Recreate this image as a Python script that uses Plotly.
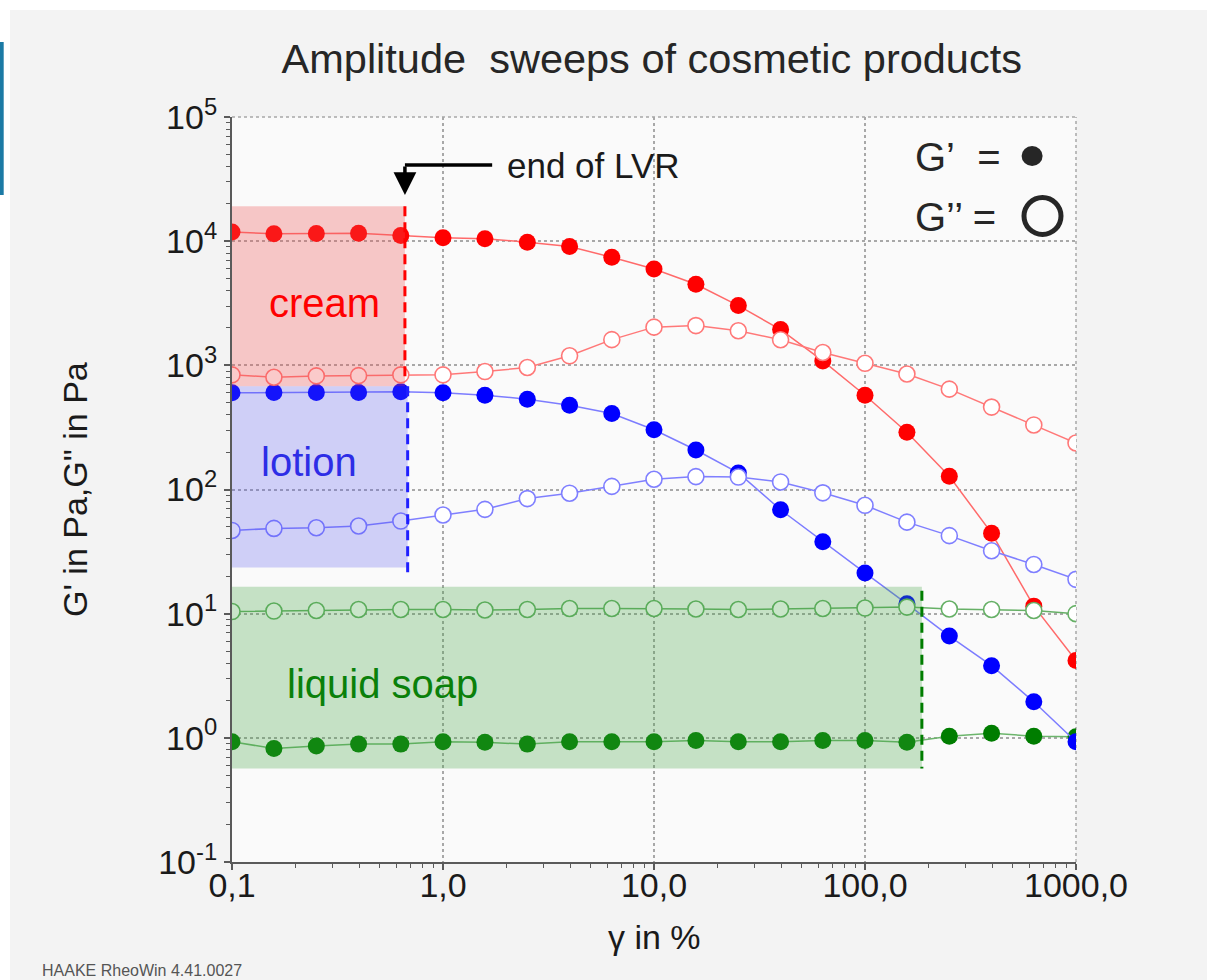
import math
import plotly.graph_objects as go

# ---------------- data ----------------
gamma = [0.1, 0.158, 0.251, 0.398, 0.631, 1.0, 1.58, 2.51, 3.98, 6.31, 10.0,
         15.8, 25.1, 39.8, 63.1, 100.0, 158.0, 251.0, 398.0, 631.0, 1000.0]

cream_G1 = [11840, 11470, 11530, 11600, 11120, 10640, 10450, 9820, 9060, 7420, 5960,
            4500, 3030, 1940, 1085, 574, 289, 128, 44.5, 11.5, 4.2]
cream_G2 = [838, 802, 822, 826, 838, 838, 891, 960, 1193, 1610, 2030,
            2090, 1900, 1607, 1268, 1038, 851, 643, 461, 331, 237]
lotion_G1 = [601, 605, 605, 605, 613, 601, 575, 534, 478, 409, 303,
             208, 136, 68.7, 38, 21.3, 12.0, 6.6, 3.81, 1.95, 0.93]
lotion_G2 = [46.8, 48.6, 49.2, 50.8, 55.7, 62.3, 69.2, 84.5, 93.4, 106, 121,
             127, 126, 115, 94, 74.6, 54.6, 42.5, 32.1, 24.9, 18.9]
soap_G1 = [0.93, 0.82, 0.86, 0.89, 0.89, 0.93, 0.92, 0.89, 0.93, 0.93, 0.93,
           0.95, 0.93, 0.93, 0.95, 0.95, 0.92, 1.03, 1.09, 1.03, 1.02]
soap_G2 = [10.4, 10.5, 10.6, 10.8, 10.8, 10.8, 10.7, 10.8, 11.0, 11.0, 11.0,
           10.9, 10.8, 10.9, 11.0, 11.1, 11.3, 10.9, 10.8, 10.6, 10.0]

# linear viscoelastic regions: (gamma start, gamma end, G low, G high)
cream_lvr = (0.1, 0.66, 680, 19100)
lotion_lvr = (0.1, 0.68, 23.5, 680)
soap_lvr = (0.1, 186, 0.565, 16.5)

x_tickvals = [0.1, 1, 10, 100, 1000]
x_ticktext = ["0,1", "1,0", "10,0", "100,0", "1000,0"]
y_tickvals = [0.1, 1, 10, 100, 1000, 10000, 100000]
y_ticktext = ["10<sup>-1</sup>", "10<sup>0</sup>", "10<sup>1</sup>", "10<sup>2</sup>",
              "10<sup>3</sup>", "10<sup>4</sup>", "10<sup>5</sup>"]

FONT = "Liberation Sans, Arial, sans-serif"

fig = go.Figure()

def filled(y, mcol, lcol, name):
    fig.add_trace(go.Scatter(x=gamma, y=y, mode="lines+markers", name=name,
                             line=dict(color=lcol, width=1.5),
                             marker=dict(symbol="circle", size=17, color=mcol,
                                         line=dict(width=0)),
                             showlegend=False))

def opened(y, ocol, lcol, name):
    fig.add_trace(go.Scatter(x=gamma, y=y, mode="lines+markers", name=name,
                             line=dict(color=lcol, width=1.5),
                             marker=dict(symbol="circle", size=16, color="white",
                                         line=dict(width=1.6, color=ocol)),
                             showlegend=False))

filled(soap_G1, "#007d00", "#6cb56c", "liquid soap G'")
filled(cream_G1, "#ff0000", "#ff6a6a", "cream G'")
filled(lotion_G1, "#0000ff", "#7c7cff", "lotion G'")
opened(cream_G2, "#ff7878", "#ff7878", "cream G''")
opened(lotion_G2, "#7f7fff", "#7f7fff", "lotion G''")
opened(soap_G2, "#66b066", "#66b066", "liquid soap G''")

shapes = []
# outer panel, side bar and plot-area background (paper coords)
shapes.append(dict(type="rect", xref="paper", yref="paper", x0=-0.263, x1=1.17,
                   y0=-0.17, y1=1.1436, fillcolor="#f3f3f3", line=dict(width=0),
                   layer="below"))
shapes.append(dict(type="rect", xref="paper", yref="paper", x0=-0.2755, x1=-0.2705,
                   y0=0.8953, y1=1.1007, fillcolor="#1b7aa5", line=dict(width=0),
                   layer="below"))
shapes.append(dict(type="rect", xref="paper", yref="paper", x0=0, x1=1,
                   y0=0, y1=1, fillcolor="#fafafa", line=dict(width=0),
                   layer="below"))

# dotted frame on top and right (grid lines at the range edges)
shapes.append(dict(type="line", xref="paper", yref="paper", x0=0, x1=1, y0=1, y1=1,
                   line=dict(color="#a8a8a8", width=1.5, dash="dot"), layer="below"))
shapes.append(dict(type="line", xref="paper", yref="paper", x0=1, x1=1, y0=0, y1=1,
                   line=dict(color="#a8a8a8", width=1.5, dash="dot"), layer="below"))

# LVR boxes
for (xa, xb, ya, yb), col in [(cream_lvr, "rgba(240,80,80,0.30)"),
                              (lotion_lvr, "rgba(80,80,240,0.25)"),
                              (soap_lvr, "rgba(60,160,60,0.28)")]:
    shapes.append(dict(type="rect", xref="x", yref="y", x0=xa, x1=xb, y0=ya, y1=yb,
                       fillcolor=col, line=dict(width=0), layer="above"))

# dashed LVR end lines
shapes.append(dict(type="line", xref="x", yref="y", x0=cream_lvr[1], x1=cream_lvr[1],
                   y0=cream_lvr[3], y1=740, line=dict(color="#ff0000", width=3, dash="10px,6px")))
shapes.append(dict(type="line", xref="x", yref="y", x0=lotion_lvr[1], x1=lotion_lvr[1],
                   y0=lotion_lvr[3], y1=20.2, line=dict(color="#2020ff", width=3, dash="10px,6px")))
shapes.append(dict(type="line", xref="x", yref="y", x0=soap_lvr[1], x1=soap_lvr[1],
                   y0=15.3, y1=soap_lvr[2], line=dict(color="#007d00", width=3, dash="10px,6px")))

# elbow of the "end of LVR" arrow
shapes.append(dict(type="line", xref="x", yref="y", x0=cream_lvr[1], x1=1.71,
                   y0=41000, y1=41000, line=dict(color="black", width=3.5)))

# legend symbols
shapes.append(dict(type="circle", xref="paper", yref="paper", xsizemode="pixel",
                   ysizemode="pixel", xanchor=0.948, yanchor=0.9476,
                   x0=-10.5, x1=10.5, y0=-10, y1=10, fillcolor="#262626",
                   line=dict(width=0)))
shapes.append(dict(type="circle", xref="paper", yref="paper", xsizemode="pixel",
                   ysizemode="pixel", xanchor=0.9603, yanchor=0.8671,
                   x0=-18.5, x1=18.5, y0=-18.5, y1=18.5, fillcolor="rgba(0,0,0,0)",
                   line=dict(width=5, color="#262626")))

annotations = [
    dict(text="cream", x=math.log10(0.273), y=math.log10(3160), xref="x", yref="y",
         xanchor="center", yanchor="middle",
         showarrow=False, font=dict(family=FONT, size=40, color="#ff0000")),
    dict(text="lotion", x=math.log10(0.232), y=math.log10(168), xref="x", yref="y",
         xanchor="center", yanchor="middle",
         showarrow=False, font=dict(family=FONT, size=40, color="#2d2de6")),
    dict(text="liquid soap", x=math.log10(0.517), y=math.log10(2.73), xref="x", yref="y",
         xanchor="center", yanchor="middle",
         showarrow=False, font=dict(family=FONT, size=40, color="#0a800a")),
    dict(text="end of LVR", x=math.log10(1.97), y=math.log10(41000), xref="x", yref="y",
         xanchor="left", yanchor="middle", showarrow=False,
         font=dict(family=FONT, size=35, color="#1a1a1a")),
    dict(text="", x=math.log10(cream_lvr[1]), y=math.log10(23500), xref="x", yref="y",
         showarrow=True, ax=0, ay=-30, arrowhead=2, arrowsize=1.3, arrowwidth=3.5,
         arrowcolor="black"),
    dict(text="G\u2019\u00a0 =", x=0.807, y=0.9463, xref="paper", yref="paper",
         xanchor="left", yanchor="middle", showarrow=False,
         font=dict(family=FONT, size=40, color="#262626")),
    dict(text="G\u2019\u2019 =", x=0.807, y=0.8658, xref="paper", yref="paper",
         xanchor="left", yanchor="middle", showarrow=False,
         font=dict(family=FONT, size=40, color="#262626")),
    dict(text="G' in Pa,G\" in Pa", x=-0.186, y=0.4993, xref="paper", yref="paper",
         xanchor="center", yanchor="middle",
         textangle=-90, showarrow=False, font=dict(family=FONT, size=34, color="#1a1a1a")),
    dict(text="\u03b3 in %", x=0.5, y=-0.1007, xref="paper", yref="paper",
         xanchor="center", yanchor="middle",
         showarrow=False, font=dict(family=FONT, size=34, color="#1a1a1a")),
    dict(text="HAAKE RheoWin 4.41.0027", x=-0.2275, y=-0.1463, xref="paper", yref="paper",
         xanchor="left", yanchor="middle", showarrow=False,
         font=dict(family=FONT, size=16, color="#555555")),
]

axis_common = dict(
    type="log", showline=True, linecolor="#5a5a5a", linewidth=2,
    showgrid=True, gridcolor="#a8a8a8", griddash="dot", gridwidth=1.5,
    ticks="outside", ticklen=6, tickcolor="#5a5a5a", tickwidth=1.5,
    tickfont=dict(family=FONT, size=34, color="#1a1a1a"),
    zeroline=False,
    minor=dict(ticks="outside", ticklen=4, tickcolor="#5a5a5a", tickwidth=1,
               showgrid=False, dtick="D1"),
)

fig.update_layout(
    width=1207, height=980,
    margin=dict(l=232, r=131, t=117, b=118),
    paper_bgcolor="white", plot_bgcolor="#fafafa",
    title=dict(text="Amplitude\u00a0 sweeps of cosmetic products", x=0.540, xanchor="center",
               y=1 - 58 / 980, yanchor="middle",
               font=dict(family=FONT, size=41.5, color="#262626")),
    xaxis=dict(range=[-1, 3], tickvals=x_tickvals, ticktext=x_ticktext,
               ticklabelstandoff=-14, **axis_common),
    yaxis=dict(range=[-1, 5], tickvals=y_tickvals, ticktext=y_ticktext, **axis_common),
    shapes=shapes, annotations=annotations,
    showlegend=False,
)

fig.write_html("out.html")
